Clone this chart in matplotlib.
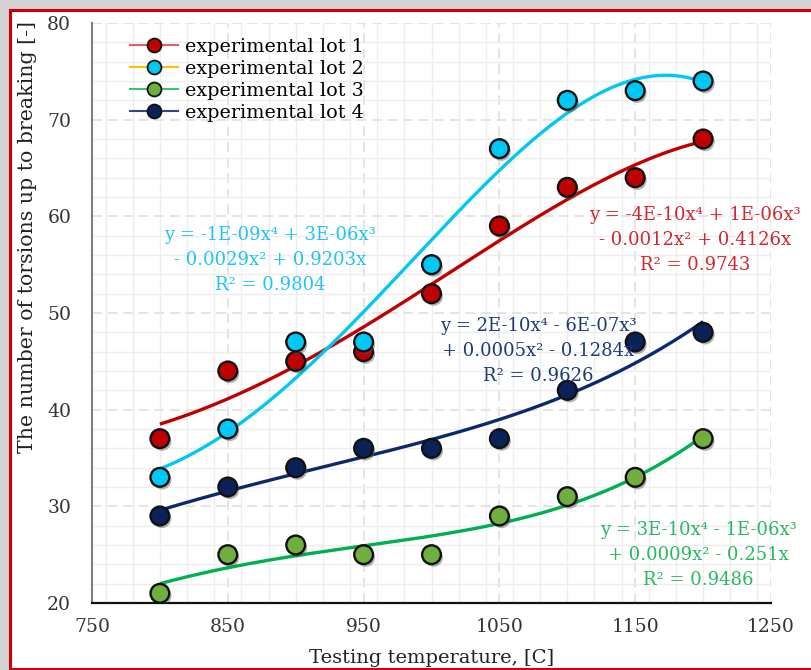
"""Torsion count vs. testing temperature for four experimental lots, with 4th-order trendlines."""

import matplotlib.pyplot as plt
import matplotlib.patheffects as pe
from matplotlib.lines import Line2D
from matplotlib.patches import Rectangle
from matplotlib.ticker import MultipleLocator
import numpy as np


temperature = [800, 850, 900, 950, 1000, 1050, 1100, 1150, 1200]

lot_1 = [37, 44, 45, 46, 52, 59, 63, 64, 68]
lot_2 = [33, 38, 47, 47, 55, 67, 72, 73, 74]
lot_3 = [21, 25, 26, 25, 25, 29, 31, 33, 37]
lot_4 = [29, 32, 34, 36, 36, 37, 42, 47, 48]

labels = ["experimental lot 1", "experimental lot 2", "experimental lot 3", "experimental lot 4"]

equations = [
    "y = -4E-10x\u2074 + 1E-06x\u00b3\n- 0.0012x\u00b2 + 0.4126x\nR\u00b2 = 0.9743",
    "y = -1E-09x\u2074 + 3E-06x\u00b3\n- 0.0029x\u00b2 + 0.9203x\nR\u00b2 = 0.9804",
    "y = 3E-10x\u2074 - 1E-06x\u00b3\n+ 0.0009x\u00b2 - 0.251x\nR\u00b2 = 0.9486",
    "y = 2E-10x\u2074 - 6E-07x\u00b3\n+ 0.0005x\u00b2 - 0.1284x\nR\u00b2 = 0.9626",
]

marker_colors = ["#c00000", "#00c8f5", "#6fae3f", "#0a2258"]
trend_colors = ["#c00000", "#00c8f0", "#00b050", "#0a2a70"]
legend_line_colors = ["#e06060", "#ffc000", "#40c080", "#2f4a8a"]
text_colors = ["#d0282e", "#20c4f0", "#28b860", "#1f3a78"]

# figure-pixel anchors (x, y from top) for the trendline equations
text_pos = [(695, 240), (270, 260), (698, 555), (538, 351)]

FONT = "DejaVu Serif"


def poly4_through_origin(x, y):
    """Least-squares quartic with zero intercept, like a spreadsheet trendline."""
    xs = np.asarray(x, dtype=float) / 1000.0
    design = np.column_stack([xs, xs**2, xs**3, xs**4])
    coef, *_ = np.linalg.lstsq(design, np.asarray(y, dtype=float), rcond=None)

    def evaluate(xv):
        s = np.asarray(xv, dtype=float) / 1000.0
        return coef[0] * s + coef[1] * s**2 + coef[2] * s**3 + coef[3] * s**4

    return evaluate


W, H = 811, 670
fig = plt.figure(figsize=(W / 100, H / 100), dpi=100, facecolor="#d2d2d2")

# white chart panel with a red frame
fig.patches.append(Rectangle((10 / W, 1.5 / H), 1.0, 1 - 11.5 / H, transform=fig.transFigure,
                             facecolor="white", edgecolor="#d00000", linewidth=2.2, zorder=-5))

ax = fig.add_axes([92 / W, 1 - 603 / H, (771 - 92) / W, (603 - 23) / H])
ax.set_facecolor("none")
ax.set_xlim(750, 1250)
ax.set_ylim(20, 80)
ax.xaxis.set_minor_locator(MultipleLocator(20))
ax.yaxis.set_major_locator(MultipleLocator(10))
ax.yaxis.set_minor_locator(MultipleLocator(2))
ax.set_xticks([750, 850, 950, 1050, 1150, 1250])

ax.grid(which="minor", color="#eeeeee", linewidth=1.0, linestyle="-")
ax.grid(which="major", color="#e4e4e4", linewidth=1.4, linestyle=(0, (5, 3)))
ax.set_axisbelow(True)
ax.axhline(80, color="#e4e4e4", linewidth=1.4, linestyle=(0, (5, 3)), zorder=0.5)

for side in ["top", "right"]:
    ax.spines[side].set_visible(False)
ax.spines["left"].set_color("#7f7f7f")
ax.spines["left"].set_linewidth(1.5)
ax.spines["bottom"].set_color("#111111")
ax.spines["bottom"].set_linewidth(1.6)
ax.tick_params(which="both", length=0, labelsize=13.5, labelcolor="#333333")
ax.tick_params(axis="y", pad=15)
ax.tick_params(axis="x", pad=11)
for lab in ax.get_xticklabels() + ax.get_yticklabels():
    lab.set_fontfamily(FONT)

shadow = [pe.SimplePatchShadow(offset=(1.5, -2), shadow_rgbFace="#555555", alpha=0.45), pe.Normal()]

x_fine = np.linspace(800, 1200, 200)
for series, mc, tc in zip([lot_1, lot_2, lot_3, lot_4], marker_colors, trend_colors):
    trend = poly4_through_origin(temperature, series)
    ax.plot(x_fine, trend(x_fine), color=tc, linewidth=2.4, zorder=3, solid_capstyle="butt")
    ax.plot(temperature, series, linestyle="none", marker="o", markersize=13.5,
            markerfacecolor=mc, markeredgecolor="#111111", markeredgewidth=1.7,
            zorder=4, path_effects=shadow)

for text, color, (px, py) in zip(equations, text_colors, text_pos):
    fig.text(px / W, 1 - py / H, text, color=color, fontsize=13, family=FONT,
             ha="center", va="center", linespacing=1.5)

handles = [Line2D([], [], color=lc, linewidth=1.5, marker="o", markersize=10,
                  markerfacecolor=mc, markeredgecolor="#111111", markeredgewidth=1.3)
           for lc, mc in zip(legend_line_colors, marker_colors)]
ax.legend(handles, labels, loc="upper left", bbox_to_anchor=(0.045, 0.987), frameon=False,
          prop={"family": FONT, "size": 13.8}, handlelength=2.5, handletextpad=0.35,
          labelspacing=0.2, borderaxespad=0.0)

ax.set_xlabel("Testing temperature, [C]", fontsize=14, family=FONT, color="#222222", labelpad=9)
ax.set_ylabel("The number of torsions up to breaking [-]", fontsize=14.8, family=FONT,
              color="#222222")
ax.yaxis.set_label_coords((37 - 92) / 679, (603 - 237) / 580)

fig.savefig("out.png", dpi=100, facecolor=fig.get_facecolor())
